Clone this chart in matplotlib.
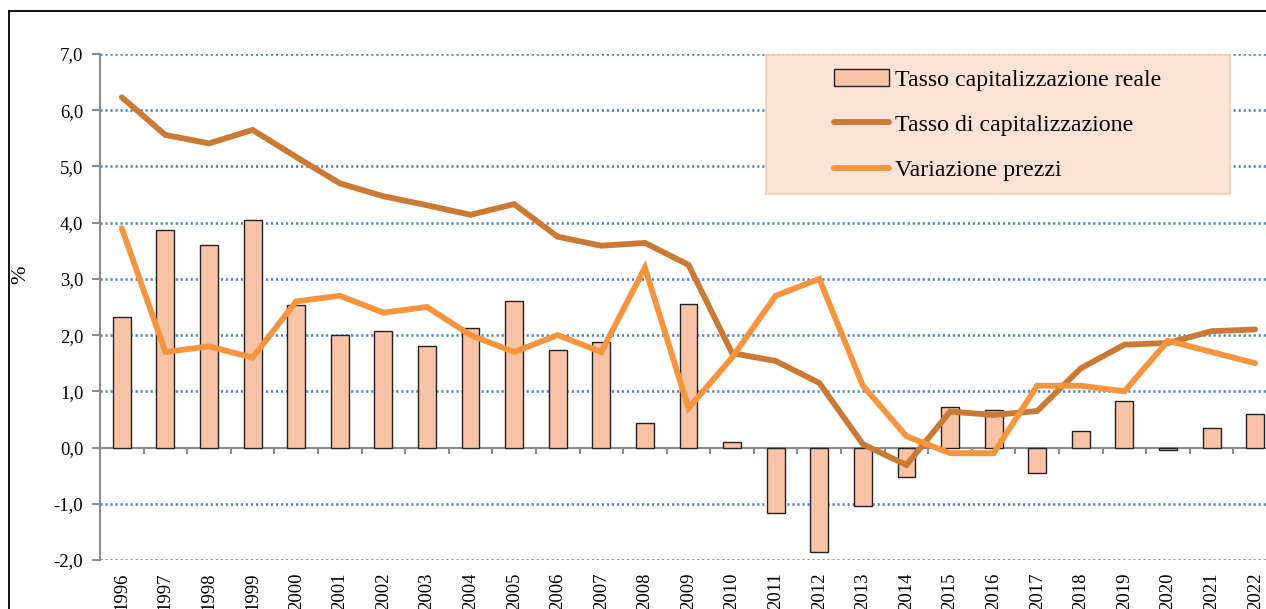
import matplotlib
matplotlib.use("Agg")
import matplotlib.pyplot as plt
import numpy as np
from matplotlib.patches import Rectangle
from matplotlib.lines import Line2D

plt.rcParams['font.family'] = ['Liberation Serif', 'DejaVu Serif']

years = ["1996", "1997", "1998", "1999", "2000", "2001", "2002", "2003", "2004",
         "2005", "2006", "2007", "2008", "2009", "2010", "2011", "2012", "2013",
         "2014", "2015", "2016", "2017", "2018", "2019", "2020", "2021", "2022"]

tasso_reale = [2.33, 3.87, 3.61, 4.05, 2.53, 2.00, 2.08, 1.80, 2.13,
               2.61, 1.74, 1.87, 0.43, 2.55, 0.09, -1.17, -1.86, -1.04,
               -0.52, 0.73, 0.67, -0.46, 0.30, 0.82, -0.05, 0.35, 0.59]

tasso_cap = [6.23, 5.56, 5.41, 5.65, 5.17, 4.70, 4.47, 4.31, 4.14,
             4.33, 3.75, 3.59, 3.64, 3.25, 1.68, 1.54, 1.15, 0.06,
             -0.31, 0.64, 0.58, 0.65, 1.41, 1.83, 1.86, 2.07, 2.10]

var_prezzi = [3.9, 1.7, 1.8, 1.6, 2.6, 2.7, 2.4, 2.5, 2.0,
              1.7, 2.0, 1.7, 3.2, 0.7, 1.6, 2.7, 3.0, 1.1,
              0.2, -0.1, -0.1, 1.1, 1.1, 1.0, 1.9, 1.7, 1.5]

y_ticks = [-2, -1, 0, 1, 2, 3, 4, 5, 6, 7]
y_tick_labels = ["-2,0", "-1,0", "0,0", "1,0", "2,0", "3,0", "4,0", "5,0", "6,0", "7,0"]

W, H = 1266, 609
fig = plt.figure(figsize=(W / 100, H / 100), dpi=100)
ax_left, ax_right = 100, 1277
ax_top, ax_bot = 54, 560
ax = fig.add_axes([ax_left / W, 1 - ax_bot / H, (ax_right - ax_left) / W, (ax_bot - ax_top) / H])

x = np.arange(len(years))
ax.set_xlim(-0.5, len(years) - 0.5)
ax.set_ylim(-2, 7)

# grid
for yv in y_ticks:
    if yv != 0:
        ax.axhline(yv, color='#4F81C4', lw=1.9, ls=(0, (0.8, 1.1)), zorder=0)

bar_color = '#F8C3A6'
line_dark = '#CC7A33'
line_orange = '#F7943E'

hb = ax.bar(x, tasso_reale, width=0.41, color=bar_color, edgecolor='#222222', linewidth=1.0, zorder=2,
            label='Tasso capitalizzazione reale')
hd, = ax.plot(x, tasso_cap, color=line_dark, lw=4.2, solid_joinstyle='miter', solid_capstyle='round', zorder=3,
              label='Tasso di capitalizzazione')
ho, = ax.plot(x, var_prezzi, color=line_orange, lw=4.2, solid_joinstyle='miter', solid_capstyle='round', zorder=4,
              label='Variazione prezzi')

# zero axis line with category boundary ticks
ax.axhline(0, color='#8C8C8C', lw=1.5, zorder=1)
ax.vlines(np.arange(len(years) + 1) - 0.5, -0.11, 0, color='#8C8C8C', lw=1.5, zorder=1)

for s in ['top', 'right', 'bottom']:
    ax.spines[s].set_visible(False)
ax.spines['left'].set_color('#8C8C8C')
ax.spines['left'].set_linewidth(1.5)

ax.set_yticks(y_ticks)
ax.set_yticklabels(y_tick_labels, fontsize=13.5)
ax.tick_params(axis='y', direction='out', length=6, width=1.5, color='#8C8C8C', pad=6)
ax.set_xticks(x)
ax.set_xticklabels(years, rotation=90, fontsize=13.5)
ax.tick_params(axis='x', length=0, pad=9)

ax.set_ylabel('%', fontsize=16)
ax.yaxis.set_label_coords((30 - ax_left) / (ax_right - ax_left), (ax_bot - 275) / (ax_bot - ax_top))

# legend background
lx0, lx1, ly0, ly1 = 766, 1230, 55, 194
ax.add_patch(Rectangle(((lx0 - ax_left) / (ax_right - ax_left), (ax_bot - ly1) / (ax_bot - ax_top)),
                       (lx1 - lx0) / (ax_right - ax_left), (ly1 - ly0) / (ax_bot - ax_top),
                       transform=ax.transAxes, facecolor='#FBE4D6', edgecolor='#F8CBAD', lw=1.2,
                       zorder=5))
leg = ax.legend(handles=[hb, hd, ho], loc='upper left',
                bbox_to_anchor=((834 - ax_left) / (ax_right - ax_left), (ax_bot - 69) / (ax_bot - ax_top)),
                frameon=False, fontsize=17.2, handlelength=2.3, handletextpad=0.25,
                labelspacing=0.98, borderpad=0, borderaxespad=0)
leg.set_zorder(6)

# outer border (chart area frame, cropped)
fig.add_artist(Line2D([9 / W, 9 / W], [0, 1 - 11 / H], color='black', lw=1.3, transform=fig.transFigure))
fig.add_artist(Line2D([9 / W, 1], [1 - 11 / H, 1 - 11 / H], color='black', lw=1.3, transform=fig.transFigure))

fig.savefig('out.png', dpi=100)
